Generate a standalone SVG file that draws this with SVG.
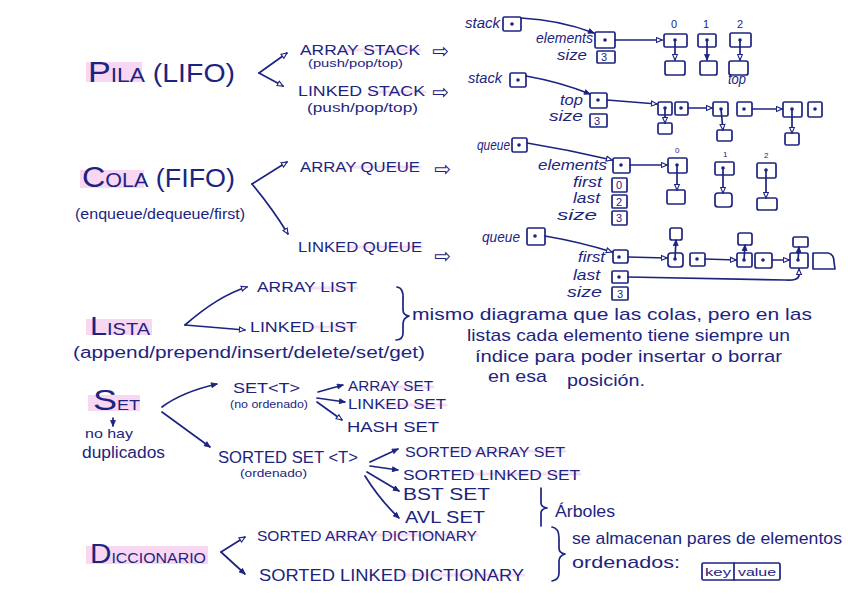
<svg xmlns="http://www.w3.org/2000/svg" width="848" height="599" viewBox="0 0 848 599">
<defs>
<style>
text{font-family:"Liberation Sans","DejaVu Sans",sans-serif;fill:#1d2480}
.t{font-size:14px}
.s{font-size:11px}
.c{font-size:14px;font-style:italic}
.q{font-size:17px}
.sym{font-family:"DejaVu Sans",sans-serif;font-size:20px}
.l{fill:none;stroke:#1d2480;stroke-width:1.7;stroke-linecap:round;stroke-linejoin:round}
.b{fill:#fff;stroke:#1d2480;stroke-width:1.7;stroke-linejoin:round}
.d{fill:#1d2480}
.hl{fill:#f3bdeb;opacity:.6}
.st{stroke:#f3bdeb;stroke-width:3;opacity:.5;stroke-linecap:round}
</style>
<marker id="ah" viewBox="0 0 10 10" refX="9" refY="5" markerWidth="7" markerHeight="7" orient="auto" markerUnits="userSpaceOnUse">
<path d="M1,1.5 L9,5 L1,8.5 z" fill="#fff" stroke="#1d2480" stroke-width="1.6"/>
</marker>
<marker id="af" viewBox="0 0 10 10" refX="9" refY="5" markerWidth="7" markerHeight="7" orient="auto" markerUnits="userSpaceOnUse">
<path d="M1,1.5 L9,5 L1,8.5 z" fill="#1d2480" stroke="#1d2480" stroke-width="1.2"/>
</marker>
</defs>
<rect width="848" height="599" fill="#fff"/>

<g id="highlights">
<rect class="hl" x="86" y="62" width="56" height="20"/>
<rect class="hl" x="80" y="170" width="64" height="18"/>
<rect class="hl" x="86" y="319" width="66" height="16"/>
<rect class="hl" x="88" y="395" width="52" height="16"/>
<rect class="hl" x="86" y="546" width="122" height="18"/>
<line class="st" x1="340" y1="50" x2="420" y2="50"/>
<line class="st" x1="370" y1="92" x2="425" y2="92"/>
<line class="st" x1="350" y1="167" x2="420" y2="167"/>
<line class="st" x1="350" y1="247" x2="422" y2="247"/>
<line class="st" x1="310" y1="288" x2="357" y2="288"/>
<line class="st" x1="310" y1="327" x2="357" y2="327"/>
<line class="st" x1="380" y1="387" x2="433" y2="387"/>
<line class="st" x1="380" y1="405" x2="446" y2="405"/>
<line class="st" x1="450" y1="451" x2="565" y2="451"/>
<line class="st" x1="460" y1="474" x2="580" y2="474"/>
<line class="st" x1="330" y1="535" x2="478" y2="535"/>
<line class="st" x1="400" y1="575" x2="524" y2="575"/>
</g>

<!-- Titles -->
<g id="pila"><text x="88" y="82" textLength="147" lengthAdjust="spacingAndGlyphs"><tspan font-size="30">P</tspan><tspan font-size="20">ILA</tspan><tspan font-size="25"> (LIFO)</tspan></text></g>
<g id="cola"><text x="82" y="187" textLength="153" lengthAdjust="spacingAndGlyphs"><tspan font-size="30">C</tspan><tspan font-size="20">OLA</tspan><tspan font-size="25"> (FIFO)</tspan></text>
<text x="75" y="219" font-size="15" textLength="170" lengthAdjust="spacingAndGlyphs">(enqueue/dequeue/first)</text></g>
<g id="lista"><text x="90" y="335" textLength="60" lengthAdjust="spacingAndGlyphs"><tspan font-size="26">L</tspan><tspan font-size="17">ISTA</tspan></text>
<text x="73" y="358" font-size="16" textLength="352" lengthAdjust="spacingAndGlyphs">(append/prepend/insert/delete/set/get)</text></g>
<g id="set"><text x="93" y="410" textLength="47" lengthAdjust="spacingAndGlyphs"><tspan font-size="30">S</tspan><tspan font-size="15">ET</tspan></text>
<text x="85" y="438" font-size="13" textLength="48" lengthAdjust="spacingAndGlyphs">no hay</text>
<text x="82" y="458" font-size="16" textLength="83" lengthAdjust="spacingAndGlyphs">duplicados</text></g>
<g id="diccionario"><text x="90" y="563" textLength="116" lengthAdjust="spacingAndGlyphs"><tspan font-size="28">D</tspan><tspan font-size="15">ICCIONARIO</tspan></text></g>

<!-- Stack labels -->
<g id="array-stack"><text class="t" x="300" y="55" textLength="120" lengthAdjust="spacingAndGlyphs">ARRAY STACK</text>
<text class="sym" x="432" y="58">⇨</text>
<text class="s" x="308" y="67" textLength="95" lengthAdjust="spacingAndGlyphs">(push/pop/top)</text></g>
<g id="linked-stack"><text class="t" x="298" y="96" textLength="127" lengthAdjust="spacingAndGlyphs">LINKED STACK</text>
<text class="sym" x="432" y="99">⇨</text>
<text x="307" y="112" font-size="12" textLength="111" lengthAdjust="spacingAndGlyphs">(push/pop/top)</text></g>
<g id="array-queue"><text class="t" x="300" y="172" textLength="120" lengthAdjust="spacingAndGlyphs">ARRAY QUEUE</text>
<text class="sym" x="434" y="176">⇨</text></g>
<g id="linked-queue"><text class="t" x="298" y="252" textLength="124" lengthAdjust="spacingAndGlyphs">LINKED QUEUE</text>
<text class="sym" x="434" y="263">⇨</text></g>
<g id="array-list"><text class="t" x="257" y="292" textLength="100" lengthAdjust="spacingAndGlyphs">ARRAY LIST</text></g>
<g id="linked-list"><text class="t" x="250" y="332" textLength="107" lengthAdjust="spacingAndGlyphs">LINKED LIST</text></g>

<!-- List note -->
<g id="nota-lista">
<path class="l" d="M397,287 Q404,288 403,300 L403,310 Q403,315 409,316 Q403,318 403,324 L403,333 Q403,340 396,340"/>
<text class="q" x="412" y="320" textLength="400" lengthAdjust="spacingAndGlyphs">mismo diagrama que las colas, pero en las</text>
<text class="q" x="467" y="341" textLength="323" lengthAdjust="spacingAndGlyphs">listas cada elemento tiene siempre un</text>
<text class="q" x="475" y="362" textLength="307" lengthAdjust="spacingAndGlyphs">índice para poder insertar o borrar</text>
<text class="q" x="488" y="382" textLength="59" lengthAdjust="spacingAndGlyphs">en esa</text>
<text class="q" x="567" y="386" textLength="78" lengthAdjust="spacingAndGlyphs">posición.</text>
</g>

<!-- Set labels -->
<g id="set-t"><text x="233" y="393" font-size="15" textLength="67" lengthAdjust="spacingAndGlyphs">SET&lt;T&gt;</text>
<text x="230" y="408" font-size="10" textLength="78" lengthAdjust="spacingAndGlyphs">(no ordenado)</text></g>
<g id="array-set"><text class="t" x="348" y="391" textLength="85" lengthAdjust="spacingAndGlyphs">ARRAY SET</text></g>
<g id="linked-set"><text class="t" x="348" y="409" textLength="98" lengthAdjust="spacingAndGlyphs">LINKED SET</text></g>
<g id="hash-set"><text class="t" x="347" y="432" textLength="92" lengthAdjust="spacingAndGlyphs">HASH SET</text></g>
<g id="sorted-set"><text x="218" y="463" font-size="16" textLength="140" lengthAdjust="spacingAndGlyphs">SORTED SET &lt;T&gt;</text>
<text x="240" y="477" font-size="11" textLength="67" lengthAdjust="spacingAndGlyphs">(ordenado)</text></g>
<g id="sorted-array-set"><text class="t" x="405" y="457" textLength="160" lengthAdjust="spacingAndGlyphs">SORTED ARRAY SET</text></g>
<g id="sorted-linked-set"><text class="t" x="403" y="480" textLength="177" lengthAdjust="spacingAndGlyphs">SORTED LINKED SET</text></g>
<g id="bst-set"><text x="403" y="500" font-size="16" textLength="87" lengthAdjust="spacingAndGlyphs">BST SET</text></g>
<g id="avl-set"><text x="405" y="523" font-size="16" textLength="80" lengthAdjust="spacingAndGlyphs">AVL SET</text></g>
<g id="arboles">
<path class="l" d="M541,488 L541,503 Q541,507 547,508 Q541,509 541,513 L541,526"/>
<text x="555" y="517" font-size="16" textLength="60" lengthAdjust="spacingAndGlyphs">Árboles</text>
</g>

<!-- Dictionary -->
<g id="sorted-array-dictionary"><text class="t" x="257" y="541" textLength="220" lengthAdjust="spacingAndGlyphs">SORTED ARRAY DICTIONARY</text></g>
<g id="sorted-linked-dictionary"><text x="259" y="581" font-size="16" textLength="265" lengthAdjust="spacingAndGlyphs">SORTED LINKED DICTIONARY</text></g>
<g id="nota-diccionario">
<path class="l" d="M552,527 Q559,528 559,538 L559,548 Q559,553 565,554 Q559,556 559,561 L559,573 Q559,580 552,581"/>
<text x="572" y="544" font-size="17" textLength="270" lengthAdjust="spacingAndGlyphs">se almacenan pares de elementos</text>
<text x="572" y="568" font-size="17" textLength="108" lengthAdjust="spacingAndGlyphs">ordenados:</text>
<rect class="b" x="702" y="563" width="78" height="17" rx="1.5"/>
<line class="l" x1="734" y1="563" x2="734" y2="580"/>
<text x="705" y="576" font-size="10" textLength="26" lengthAdjust="spacingAndGlyphs">key</text>
<text x="738" y="576" font-size="11" textLength="38" lengthAdjust="spacingAndGlyphs">value</text>
</g>

<!-- Array stack structure -->
<g id="array-stack-diagram">
<text class="c" x="465" y="28" textLength="35" lengthAdjust="spacingAndGlyphs">stack</text>
<rect class="b" x="503" y="17" width="18" height="14" rx="1.5"/><circle class="d" cx="512" cy="24" r="1.8"/>
<text class="c" x="536" y="43" textLength="57" lengthAdjust="spacingAndGlyphs">elements</text>
<rect class="b" x="595" y="32" width="20" height="16" rx="1.5"/><circle class="d" cx="605" cy="40" r="1.8"/>
<text class="c" x="557" y="60" textLength="30" lengthAdjust="spacingAndGlyphs">size</text>
<rect class="b" x="597" y="51" width="18" height="12" rx="1"/><text x="601" y="61" font-size="11">3</text>
<text x="671" y="28" font-size="11">0</text><text x="703" y="28" font-size="11">1</text><text x="737" y="28" font-size="11">2</text>
<rect class="b" x="664" y="34" width="23" height="13" rx="1.5"/><circle class="d" cx="675" cy="40" r="1.8"/>
<rect class="b" x="698" y="34" width="18" height="13" rx="1.5"/><circle class="d" cx="707" cy="40" r="1.8"/>
<rect class="b" x="730" y="33" width="21" height="14" rx="1.5"/><circle class="d" cx="740" cy="40" r="1.8"/>
<rect class="b" x="665" y="61" width="20" height="14" rx="2"/>
<rect class="b" x="700" y="61" width="17" height="14" rx="2"/>
<rect class="b" x="729" y="61" width="19" height="14" rx="2"/>
<text class="c" x="728" y="84" textLength="18" lengthAdjust="spacingAndGlyphs">top</text>
</g>

<!-- Linked stack structure -->
<g id="linked-stack-diagram">
<text class="c" x="468" y="83" textLength="34" lengthAdjust="spacingAndGlyphs">stack</text>
<rect class="b" x="510" y="73" width="16" height="14" rx="1.5"/><circle class="d" cx="518" cy="80" r="1.8"/>
<text class="c" x="560" y="105" textLength="23" lengthAdjust="spacingAndGlyphs">top</text>
<rect class="b" x="590" y="93" width="17" height="15" rx="1.5"/><circle class="d" cx="598" cy="100" r="1.8"/>
<text class="c" x="549" y="121" textLength="34" lengthAdjust="spacingAndGlyphs">size</text>
<rect class="b" x="590" y="114" width="17" height="13" rx="1"/><text x="594" y="125" font-size="11">3</text>
<rect class="b" x="658" y="102" width="14" height="13" rx="1.5"/><circle class="d" cx="665" cy="108" r="1.8"/>
<rect class="b" x="675" y="102" width="13" height="13" rx="1.5"/><circle class="d" cx="681" cy="108" r="1.8"/>
<rect class="b" x="713" y="102" width="15" height="14" rx="1.5"/><circle class="d" cx="721" cy="109" r="1.8"/>
<rect class="b" x="737" y="102" width="15" height="14" rx="1.5"/><circle class="d" cx="744" cy="109" r="1.8"/>
<rect class="b" x="783" y="102" width="19" height="15" rx="1.5"/><circle class="d" cx="792" cy="109" r="1.8"/>
<rect class="b" x="808" y="102" width="14" height="15" rx="1.5"/><circle class="d" cx="815" cy="109" r="1.8"/>
<rect class="b" x="658" y="123" width="14" height="11" rx="1.5"/>
<rect class="b" x="717" y="130" width="15" height="11" rx="1.5"/>
<rect class="b" x="785" y="133" width="14" height="12" rx="1.5"/>
</g>

<!-- Array queue structure -->
<g id="array-queue-diagram">
<text class="c" x="477" y="150" textLength="33" lengthAdjust="spacingAndGlyphs">queue</text>
<rect class="b" x="512" y="138" width="15" height="14" rx="1.5"/><circle class="d" cx="519" cy="145" r="1.8"/>
<text class="c" x="538" y="170" textLength="69" lengthAdjust="spacingAndGlyphs">elements</text>
<rect class="b" x="613" y="158" width="17" height="15" rx="1.5"/><circle class="d" cx="621" cy="165" r="1.8"/>
<text class="c" x="573" y="187" textLength="29" lengthAdjust="spacingAndGlyphs">first</text>
<rect class="b" x="612" y="178" width="15" height="14" rx="1"/><text x="616" y="189" font-size="11">0</text>
<text class="c" x="573" y="203" textLength="27" lengthAdjust="spacingAndGlyphs">last</text>
<rect class="b" x="612" y="195" width="15" height="13" rx="1"/><text x="616" y="206" font-size="11">2</text>
<text class="c" x="557" y="220" textLength="40" lengthAdjust="spacingAndGlyphs">size</text>
<rect class="b" x="612" y="211" width="15" height="14" rx="1"/><text x="616" y="222" font-size="11">3</text>
<text x="675" y="153" font-size="8">0</text><text x="723" y="157" font-size="8">1</text><text x="764" y="158" font-size="8">2</text>
<rect class="b" x="668" y="158" width="19" height="15" rx="1.5"/><circle class="d" cx="677" cy="165" r="1.8"/>
<rect class="b" x="715" y="162" width="19" height="13" rx="1.5"/><circle class="d" cx="723" cy="168" r="1.8"/>
<rect class="b" x="757" y="163" width="19" height="15" rx="1.5"/><circle class="d" cx="766" cy="170" r="1.8"/>
<rect class="b" x="667" y="190" width="18" height="14" rx="1.5"/>
<rect class="b" x="715" y="193" width="17" height="14" rx="3"/>
<rect class="b" x="757" y="198" width="20" height="12" rx="2"/>
</g>

<!-- Linked queue structure -->
<g id="linked-queue-diagram">
<text class="c" x="482" y="242" textLength="38" lengthAdjust="spacingAndGlyphs">queue</text>
<rect class="b" x="527" y="228" width="18" height="17" rx="1.5"/><circle class="d" cx="535" cy="236" r="1.8"/>
<text class="c" x="578" y="262" textLength="27" lengthAdjust="spacingAndGlyphs">first</text>
<rect class="b" x="613" y="250" width="15" height="13" rx="2"/><circle class="d" cx="619" cy="257" r="1.8"/>
<text class="c" x="573" y="280" textLength="27" lengthAdjust="spacingAndGlyphs">last</text>
<rect class="b" x="612" y="271" width="16" height="12" rx="1"/><circle class="d" cx="619" cy="277" r="1.8"/>
<text class="c" x="567" y="297" textLength="35" lengthAdjust="spacingAndGlyphs">size</text>
<rect class="b" x="612" y="287" width="16" height="13" rx="1"/><text x="617" y="298" font-size="11">3</text>
<rect class="b" x="668" y="253" width="15" height="14" rx="3"/><circle class="d" cx="675" cy="259" r="1.8"/>
<rect class="b" x="690" y="253" width="15" height="13" rx="1.5"/><circle class="d" cx="697" cy="259" r="1.8"/>
<rect class="b" x="737" y="253" width="15" height="14" rx="1.5"/><circle class="d" cx="744" cy="260" r="1.8"/>
<rect class="b" x="755" y="253" width="17" height="15" rx="2"/><circle class="d" cx="763" cy="260" r="1.8"/>
<rect class="b" x="790" y="253" width="18" height="15" rx="1.5"/><circle class="d" cx="798" cy="260" r="1.8"/>
<path class="b" d="M813,253 L828,253 Q834,254 834,262 L835,269 L813,269 z"/>
<rect class="b" x="670" y="228" width="12" height="12" rx="2"/>
<rect class="b" x="738" y="233" width="14" height="12" rx="2"/>
<rect class="b" x="793" y="237" width="15" height="10" rx="1.5"/>
</g>

<!-- Connectors -->
<g id="connectors">
<path class="l" d="M259,73 L287,53" marker-end="url(#ah)"/>
<path class="l" d="M259,73 L283,86" marker-end="url(#ah)"/>
<path class="l" d="M252,184 L287,162" marker-end="url(#ah)"/>
<path class="l" d="M252,184 Q272,208 288,234" marker-end="url(#ah)"/>
<path class="l" d="M185,325 Q218,296 247,287" marker-end="url(#ah)"/>
<path class="l" d="M185,325 L245,330" marker-end="url(#ah)"/>
<path class="l" d="M162,407 Q182,392 217,384" marker-end="url(#af)"/>
<path class="l" d="M162,412 L210,447" marker-end="url(#af)"/>
<path class="l" d="M113,418 L113,426" marker-end="url(#af)"/>
<path class="l" d="M318,392 L343,385" marker-end="url(#af)"/>
<path class="l" d="M317,398 L345,402" marker-end="url(#af)"/>
<path class="l" d="M317,402 L342,420" marker-end="url(#ah)"/>
<path class="l" d="M370,462 L398,449" marker-end="url(#af)"/>
<path class="l" d="M370,466 L398,470" marker-end="url(#af)"/>
<path class="l" d="M367,472 L399,491" marker-end="url(#af)"/>
<path class="l" d="M365,476 Q380,500 399,518" marker-end="url(#af)"/>
<path class="l" d="M221,552 L245,537" marker-end="url(#ah)"/>
<path class="l" d="M221,552 L245,574" marker-end="url(#af)"/>
<!-- structure arrows -->
<path class="l" d="M521,18 Q560,20 594,33" marker-end="url(#af)"/>
<path class="l" d="M615,40 L662,40" marker-end="url(#ah)"/>
<path class="l" d="M675,40 L675,60" marker-end="url(#ah)"/>
<path class="l" d="M707,40 L707,60" marker-end="url(#af)"/>
<path class="l" d="M740,40 L740,60" marker-end="url(#ah)"/>
<path class="l" d="M526,76 Q560,82 590,94" marker-end="url(#af)"/>
<path class="l" d="M607,100 L657,104" marker-end="url(#ah)"/>
<path class="l" d="M665,108 L665,123" marker-end="url(#ah)"/>
<path class="l" d="M688,108 L712,108" marker-end="url(#ah)"/>
<path class="l" d="M721,109 L723,130" marker-end="url(#ah)"/>
<path class="l" d="M752,109 L782,109" marker-end="url(#ah)"/>
<path class="l" d="M792,109 L792,133" marker-end="url(#ah)"/>
<path class="l" d="M527,143 Q570,150 612,160" marker-end="url(#ah)"/>
<path class="l" d="M630,165 L667,165" marker-end="url(#ah)"/>
<path class="l" d="M677,165 L677,190" marker-end="url(#ah)"/>
<path class="l" d="M723,168 L723,193" marker-end="url(#ah)"/>
<path class="l" d="M766,170 L766,198" marker-end="url(#ah)"/>
<path class="l" d="M545,236 Q580,242 612,252" marker-end="url(#ah)"/>
<path class="l" d="M628,257 L667,258" marker-end="url(#ah)"/>
<path class="l" d="M675,259 L676,240" marker-end="url(#af)"/>
<path class="l" d="M705,259 L736,260" marker-end="url(#ah)"/>
<path class="l" d="M744,260 L745,245" marker-end="url(#af)"/>
<path class="l" d="M772,260 L789,260" marker-end="url(#ah)"/>
<path class="l" d="M798,260 L799,247" marker-end="url(#af)"/>
<path class="l" d="M628,277 L785,280 Q799,281 799,275 L799,269" marker-end="url(#ah)"/>
</g>
</svg>
